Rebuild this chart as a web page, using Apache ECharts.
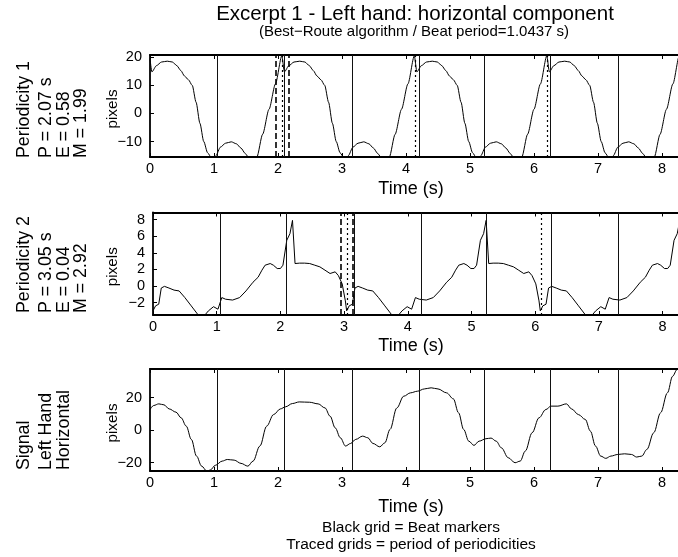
<!DOCTYPE html>
<html><head><meta charset="utf-8">
<script src="https://cdn.jsdelivr.net/npm/echarts@6/dist/echarts.min.js"></script>
<style>html,body{margin:0;padding:0;background:#fff}#c{width:678px;height:557px}</style>
</head><body><div id="c"></div><script>
// ---------- data ----------
const xTicks = [0, 1, 2, 3, 4, 5, 6, 7, 8];
const y1Ticks = [-10, 0, 10, 20];
const y2Ticks = [-2, 0, 2, 4, 6, 8];
const y3Ticks = [-20, 0, 20];

const beatTimes = [1.05, 2.09, 3.16, 4.21, 5.23, 6.25, 7.31];
const per1Multiples = [2.07, 4.14, 6.21];
const per1Window = [1.97, 2.17];
const per2Multiples = [3.05, 6.10];
const per2Window = [2.94, 3.14];

// Periodicity 1 (P = 2.07 s)
const p1Time = [
  0, 0.03, 0.10, 0.18, 0.27, 0.35, 0.42, 0.48, 0.54, 0.60, 0.66, 0.72, 0.78, 0.84, 0.90, 0.96, 0.99, 1.03, 1.10, 1.18, 1.27, 1.35, 1.42, 1.49, 1.55, 1.61, 1.67, 1.76, 1.86, 1.96, 2.06,
  2.10, 2.17, 2.25, 2.34, 2.42, 2.49, 2.55, 2.61, 2.67, 2.73, 2.79, 2.85, 2.91, 2.97, 3.03, 3.06, 3.10, 3.17, 3.25, 3.34, 3.42, 3.49, 3.56, 3.62, 3.68, 3.74, 3.83, 3.93, 4.03, 4.13,
  4.17, 4.24, 4.32, 4.41, 4.49, 4.56, 4.62, 4.68, 4.74, 4.80, 4.86, 4.92, 4.98, 5.04, 5.10, 5.13, 5.17, 5.24, 5.32, 5.41, 5.49, 5.56, 5.63, 5.69, 5.75, 5.81, 5.90, 6.00, 6.10, 6.20,
  6.24, 6.31, 6.39, 6.48, 6.56, 6.63, 6.69, 6.75, 6.81, 6.87, 6.93, 6.99, 7.05, 7.11, 7.17, 7.20, 7.24, 7.31, 7.39, 7.48, 7.56, 7.63, 7.70, 7.76, 7.82, 7.88, 7.97, 8.07, 8.17, 8.27,
  8.31, 8.38
];
const p1Value = [
  19.5, 14.8, 17.0, 18.3, 18.6, 18.3, 17.0, 15.3, 13.3, 12.0, 10.0, 4.0, -3.5, -10.0, -14.0, -15.8, -17.0, -15.0, -12.0, -10.6, -10.1, -10.8, -12.3, -14.3, -16.0, -17.5, -15.5, -7.4, 1.5, 10.5, 20.5,
  14.8, 17.0, 18.3, 18.6, 18.3, 17.0, 15.3, 13.3, 12.0, 10.0, 4.0, -3.5, -10.0, -14.0, -15.8, -17.0, -15.0, -12.0, -10.6, -10.1, -10.8, -12.3, -14.3, -16.0, -17.5, -15.5, -7.4, 1.5, 10.5, 20.5,
  14.8, 17.0, 18.3, 18.6, 18.3, 17.0, 15.3, 13.3, 12.0, 10.0, 4.0, -3.5, -10.0, -14.0, -15.8, -17.0, -15.0, -12.0, -10.6, -10.1, -10.8, -12.3, -14.3, -16.0, -17.5, -15.5, -7.4, 1.5, 10.5, 20.5,
  14.8, 17.0, 18.3, 18.6, 18.3, 17.0, 15.3, 13.3, 12.0, 10.0, 4.0, -3.5, -10.0, -14.0, -15.8, -17.0, -15.0, -12.0, -10.6, -10.1, -10.8, -12.3, -14.3, -16.0, -17.5, -15.5, -7.4, 1.5, 10.5, 20.5,
  14.8, 17.0
];

// Periodicity 2 (P = 3.05 s)
const p2Time = [
  0, 0.04, 0.09, 0.13, 0.18, 0.25, 0.33, 0.41, 0.50, 0.60, 0.71, 0.76, 0.87, 0.95, 1.02, 1.08, 1.14, 1.25, 1.36, 1.46, 1.57, 1.65, 1.71, 1.76, 1.84, 1.89, 1.95, 2.00, 2.04, 2.10, 2.15, 2.19, 2.22, 2.23, 2.30, 2.38, 2.46, 2.54, 2.62, 2.70, 2.78, 2.86, 2.91, 2.97, 3.02,
  3.04, 3.08, 3.13, 3.17, 3.22, 3.29, 3.37, 3.45, 3.54, 3.64, 3.75, 3.80, 3.91, 3.99, 4.06, 4.12, 4.18, 4.29, 4.40, 4.50, 4.61, 4.69, 4.75, 4.80, 4.88, 4.93, 4.99, 5.04, 5.08, 5.14, 5.19, 5.23, 5.26, 5.27, 5.34, 5.42, 5.50, 5.58, 5.66, 5.74, 5.82, 5.90, 5.95, 6.01, 6.06,
  6.08, 6.12, 6.17, 6.21, 6.26, 6.33, 6.41, 6.49, 6.58, 6.68, 6.79, 6.84, 6.95, 7.03, 7.10, 7.16, 7.22, 7.33, 7.44, 7.54, 7.65, 7.73, 7.79, 7.84, 7.92, 7.97, 8.03, 8.08, 8.12, 8.18, 8.23, 8.27, 8.30
];
const p2Value = [
  -3.0, -2.4, -2.2, -0.25, -0.05, -0.25, -0.5, -0.6, -1.4, -2.4, -3.5, -4.0, -3.0, -2.5, -2.8, -1.4, -1.6, -1.7, -1.4, -0.6, 0.45, 1.05, 1.9, 2.5, 2.7, 2.5, 2.1, 2.1, 2.5, 5.5, 6.3, 7.9, 8.0, 2.7, 2.75, 2.75, 2.7, 2.5, 2.3, 1.9, 1.5, 1.7, 1.25, 0.25, -1.8,
  -3.0, -2.4, -2.2, -0.25, -0.05, -0.25, -0.5, -0.6, -1.4, -2.4, -3.5, -4.0, -3.0, -2.5, -2.8, -1.4, -1.6, -1.7, -1.4, -0.6, 0.45, 1.05, 1.9, 2.5, 2.7, 2.5, 2.1, 2.1, 2.5, 5.5, 6.3, 7.9, 8.0, 2.7, 2.75, 2.75, 2.7, 2.5, 2.3, 1.9, 1.5, 1.7, 1.25, 0.25, -1.8,
  -3.0, -2.4, -2.2, -0.25, -0.05, -0.25, -0.5, -0.6, -1.4, -2.4, -3.5, -4.0, -3.0, -2.5, -2.8, -1.4, -1.6, -1.7, -1.4, -0.6, 0.45, 1.05, 1.9, 2.5, 2.7, 2.5, 2.1, 2.1, 2.5, 5.5, 6.3, 7.9, 8.0
];

// Signal, left hand horizontal
const sigTime = [
  0, 0.058, 0.138, 0.218, 0.299, 0.406, 0.486, 0.566, 0.646, 0.727, 0.807, 0.887, 0.941, 1.021, 1.128, 1.208, 1.315, 1.422, 1.529, 1.610,
  1.717, 1.824, 1.931, 2.038, 2.118, 2.225, 2.332, 2.493, 2.627, 2.734, 2.814, 2.894, 2.974, 3.055, 3.135, 3.215, 3.322, 3.403, 3.483, 3.590,
  3.670, 3.750, 3.857, 3.964, 4.071, 4.178, 4.286, 4.393, 4.500, 4.633, 4.740, 4.821, 4.901, 4.981, 5.062, 5.142, 5.249, 5.329, 5.409, 5.490,
  5.597, 5.704, 5.784, 5.864, 5.971, 6.078, 6.185, 6.266, 6.373, 6.506, 6.587, 6.694, 6.801, 6.881, 6.961, 7.042, 7.122, 7.202, 7.309, 7.416,
  7.523, 7.604, 7.684, 7.764, 7.871, 7.978, 8.085, 8.165, 8.235, 8.30
];
const sigValue = [
  12.7, 15.2, 16.2, 15.6, 13.1, 11.1, 7.6, 2.5, -5.7, -16.0, -22.2, -25.2, -24.6, -21.7, -19.1, -18.1, -18.5, -20.5, -22.2, -19.1,
  -9.8, 2.5, 9.6, 13.1, 14.4, 16.4, 17.4, 17.2, 16.2, 13.7, 8.6, 1.4, -4.7, -9.8, -8.2, -5.7, -3.7, -4.7, -8.2, -10.3,
  -7.8, 0.4, 13.7, 20.9, 23.0, 24.0, 25.4, 26.1, 25.4, 23.0, 19.3, 10.7, 0.4, -6.8, -9.4, -6.8, -5.3, -4.9, -6.8, -10.9,
  -17.0, -20.1, -19.1, -12.9, -1.6, 7.6, 12.7, 14.8, 14.8, 16.2, 13.1, 9.6, 6.6, -0.6, -9.8, -16.0, -17.4, -16.0, -15.0, -14.6,
  -15.0, -16.6, -16.0, -11.9, -1.6, 10.7, 23.0, 33.2, 37.3, 42
];

// ---------- chart ----------
const FONT = '"Liberation Sans", Arial, Helvetica, sans-serif';
const zip = (a, b) => a.map((t, i) => [t, b[i]]);
const minus = v => (v < 0 ? '\u2212' + Math.abs(v) : String(v));

const panels = [
  { left: 150, top: 55,    width: 528, height: 102,   xmax: 8.25,  ymin: -15.5, ymax: 20.8, ticks: y1Ticks },
  { left: 153, top: 212.5, width: 525, height: 102.5, xmax: 8.242, ymin: -3.5,  ymax: 8.85, ticks: y2Ticks },
  { left: 150, top: 369,   width: 528, height: 102,   xmax: 8.25,  ymin: -25.2, ymax: 37.7, ticks: y3Ticks }
];

const grid = panels.map(p => ({
  left: p.left, top: p.top, width: p.width, height: p.height, show: false, containLabel: false
}));

const AXLINE = { show: true, onZero: false, lineStyle: { color: '#000', width: 1.8 } };
const TICK = (vals) => ({ show: true, inside: true, length: 4, customValues: vals, lineStyle: { color: '#000', width: 1 } });

const xAxis = [];
const yAxis = [];
panels.forEach((p, i) => {
  xAxis.push({
    type: 'value', gridIndex: i, position: 'bottom', min: 0, max: p.xmax,
    axisLine: AXLINE, splitLine: { show: false }, axisTick: TICK(xTicks),
    axisLabel: { show: true, customValues: xTicks, margin: 4, fontSize: 14.5, color: '#000', fontFamily: FONT }
  });
  xAxis.push({
    type: 'value', gridIndex: i, position: 'top', min: 0, max: p.xmax,
    axisLine: AXLINE, splitLine: { show: false }, axisTick: TICK(xTicks),
    axisLabel: { show: false }
  });
  yAxis.push({
    type: 'value', gridIndex: i, position: 'left', min: p.ymin, max: p.ymax,
    axisLine: AXLINE, splitLine: { show: false }, axisTick: TICK(p.ticks),
    axisLabel: { show: true, customValues: p.ticks, margin: 8, fontSize: 14.5, color: '#000', fontFamily: FONT, formatter: minus }
  });
});

const solid = t => ({ xAxis: t, lineStyle: { type: 'solid', color: '#111', width: 1 } });
const dotted = t => ({ xAxis: t, lineStyle: { type: [2, 3], color: '#000', width: 1.2 } });
const dashed = t => ({ xAxis: t, lineStyle: { type: [6, 3], color: '#000', width: 1.6 } });

function lineSeries(i, time, value, marks, smooth) {
  return {
    type: 'line', xAxisIndex: 2 * i, yAxisIndex: i, data: zip(time, value),
    showSymbol: false, symbol: 'none', smooth: smooth, smoothMonotone: 'x', clip: true,
    lineStyle: { color: '#000', width: 1 }, silent: true, z: 3,
    markLine: { silent: true, symbol: ['none', 'none'], label: { show: false }, data: marks, animation: false }
  };
}

const series = [
  lineSeries(0, p1Time, p1Value,
    beatTimes.map(solid).concat(per1Multiples.map(dotted)).concat(per1Window.map(dashed)), 0.25),
  lineSeries(1, p2Time, p2Value,
    beatTimes.map(solid).concat(per2Multiples.map(dotted)).concat(per2Window.map(dashed)), false),
  lineSeries(2, sigTime, sigValue, beatTimes.map(solid), 0.35)
];

function txt(x, y, text, size, opts) {
  opts = opts || {};
  const align = opts.align || 'center';
  return {
    type: 'text', x: x, y: y, rotation: opts.rot || 0, silent: true,
    style: {
      text: text, fontSize: size, fontFamily: FONT, fill: '#000',
      align: align, textAlign: align, verticalAlign: 'middle', textVerticalAlign: 'middle'
    }
  };
}
const R = Math.PI / 2;
const leftCols = [24, 46.5, 64, 81.5];
const panelLabels = [
  ['Periodicity 1', 'P = 2.07 s', 'E = 0.58', 'M = 1.99'],
  ['Periodicity 2', 'P = 3.05 s', 'E = 0.04', 'M = 2.92'],
  ['Signal', 'Left Hand', 'Horizontal']
];
const labelBottoms = [158, 313, 470];

const graphics = [
  txt(415, 14, 'Excerpt 1 - Left hand: horizontal component', 20.5),
  txt(414, 32, '(Best\u2212Route algorithm / Beat period=1.0437 s)', 15),
  txt(411, 189.5, 'Time (s)', 18),
  txt(411, 346.5, 'Time (s)', 18),
  txt(411, 507, 'Time (s)', 18),
  txt(411, 528, 'Black grid = Beat markers', 15.5),
  txt(411, 545, 'Traced grids = period of periodicities', 15.5)
];
panels.forEach((p, i) => {
  graphics.push(txt(112.5, p.top + p.height / 2 + 3, 'pixels', 15.3, { rot: R }));
  panelLabels[i].forEach((s, j) => {
    graphics.push(txt(leftCols[j], labelBottoms[i], s, 17.8, { rot: R, align: 'left' }));
  });
});

const chart = echarts.init(document.getElementById('c'), null, { renderer: 'canvas' });
chart.setOption({
  animation: false,
  backgroundColor: '#fff',
  textStyle: { fontFamily: FONT },
  grid: grid, xAxis: xAxis, yAxis: yAxis, series: series,
  graphic: { elements: graphics }
});
</script></body></html>
